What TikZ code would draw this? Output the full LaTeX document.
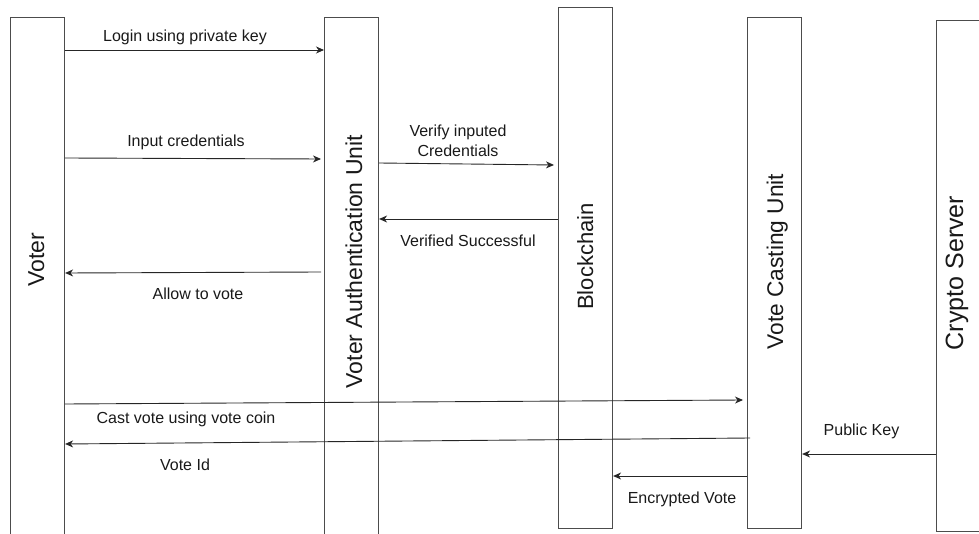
\documentclass[tikz,border=0pt]{standalone}
\usepackage{fontspec}
\setmainfont{Liberation Sans}
\usetikzlibrary{arrows.meta,calc}

\tikzset{
  lifebox/.style={draw=black!70, line width=1.1pt, fill=white, rectangle,
    inner sep=0pt, anchor=north west, minimum width=54pt},
  lifelabel/.style={rotate=90, anchor=base, inner sep=0pt, text=black!90},
  msg/.style={draw=black!85, line width=0.9pt,
    -{Stealth[length=8pt,width=7pt,inset=2.5pt]}},
  msglabel/.style={anchor=base, inner sep=0pt, text=black!90,
    font=\fontsize{16}{19.5}\selectfont},
}

\begin{document}
\begin{tikzpicture}[x=1pt,y=-1pt]
  \useasboundingbox (0,0) rectangle (979,534);
  \clip (0,0) rectangle (979,534);

  % lifelines
  \node[lifebox, minimum height=540pt] (voter)  at (10,17) {};
  \node[lifebox, minimum height=540pt] (vau)    at (324,17) {};
  \node[lifebox, minimum height=521pt] (chain)  at (558,7) {};
  \node[lifebox, minimum height=511pt] (vcu)    at (747,17) {};
  \node[lifebox, minimum height=511pt, minimum width=70pt] (crypto) at (936,20) {};

  % lifeline titles
  \node[lifelabel, font=\fontsize{23}{27}\selectfont] (tvoter)  at (44,260)  {Voter};
  \node[lifelabel, font=\fontsize{23}{27}\selectfont] (tvau)    at (362,261.5) {Voter Authentication Unit};
  \node[lifelabel, font=\fontsize{22}{26}\selectfont] (tchain)  at (593,256.5) {Blockchain};
  \node[lifelabel, font=\fontsize{22.7}{27}\selectfont] (tvcu)   at (783,261.5) {Vote Casting Unit};
  \node[lifelabel, font=\fontsize{25}{29}\selectfont] (tcrypto) at (963,273) {Crypto Server};

  % messages
  \draw[msg] (voter.east |- 0,50) -- (vau.west |- 0,50);
  \node[msglabel] (m1) at (185,42) {Login using private key};

  \draw[msg] (voter.east |- 0,158) -- ($(vau.west |- 0,159)+(-3,0)$);
  \node[msglabel] (m2) at (186,147) {Input credentials};

  \draw[msg] (vau.east |- 0,163) -- ($(chain.west |- 0,165)+(-4,0)$);
  \node[msglabel, anchor=center, align=center] (m3) at (458,141) {Verify inputed\\Credentials};

  \draw[msg] (chain.west |- 0,219) -- (vau.east |- 0,219);
  \node[msglabel] (m4) at (468,247) {Verified Successful};

  \draw[msg] ($(vau.west |- 0,272)+(-3,0)$) -- (voter.east |- 0,273);
  \node[msglabel] (m5) at (198,300) {Allow to vote};

  \draw[msg] (voter.east |- 0,404) -- ($(vcu.west |- 0,400)+(-4,0)$);
  \node[msglabel] (m6) at (186,423) {Cast vote using vote coin};

  \draw[msg] ($(vcu.west |- 0,438)+(3,0)$) -- (voter.east |- 0,444);
  \node[msglabel] (m7) at (185,470) {Vote Id};

  \draw[msg] (crypto.west |- 0,454) -- (vcu.east |- 0,454);
  \node[msglabel] (m8) at (861.5,435) {Public Key};

  \draw[msg] (vcu.west |- 0,476) -- (chain.east |- 0,476);
  \node[msglabel] (m9) at (682,503) {Encrypted Vote};
\end{tikzpicture}
\end{document}
